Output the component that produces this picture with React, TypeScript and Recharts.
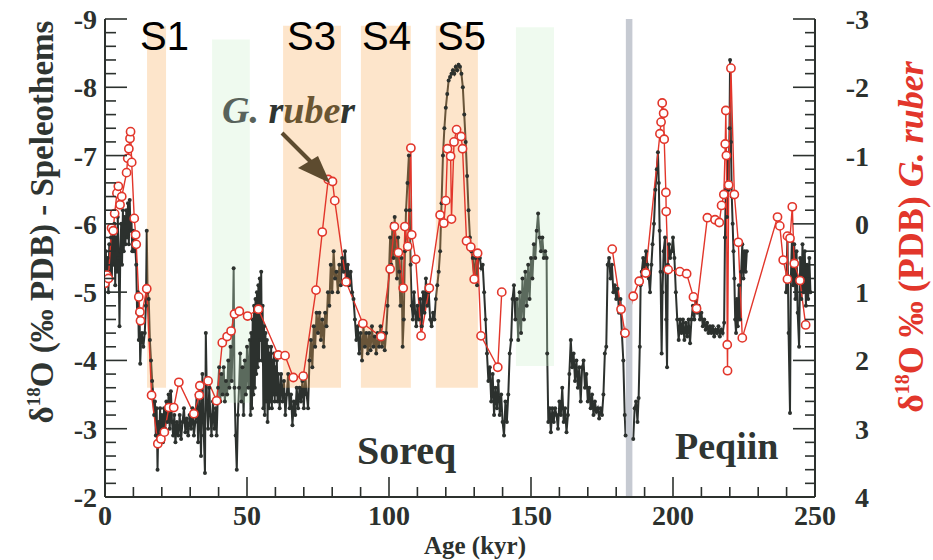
import React from 'react';
import { ComposedChart, Line, XAxis, YAxis, ReferenceArea } from 'recharts';

// [age kyr, δ18O ‰ PDB] Soreq speleothems (left axis)
const soreq: [number, number | null][] = [
    [0, -5.2], [0.3, -5.6], [0.6, -5.1], [0.9, -5.5], [1.2, -5.0], [1.5, -5.7], [1.8, -5.3], [2.1, -5.8],
    [2.4, -5.2], [2.7, -5.9], [3, -5.4], [3.3, -6.0], [3.6, -5.1], [3.9, -5.8], [4.2, -5.3], [4.5, -6.1],
    [4.8, -5.5], [5.1, -4.5], [5.4, -5.6], [5.7, -6.0], [6, -5.4], [6.3, -6.2], [6.6, -5.6], [6.9, -6.1],
    [7.2, -5.7], [7.5, -6.2], [7.8, -5.8], [8.1, -6.3], [8.4, -5.7], [8.7, -6.35], [9, -5.9], [9.3, -6.1],
    [9.6, -5.6], [9.9, -5.9], [10.2, -5.6], [10.5, -5.8], [11, -5.4], [11.3, -4.7], [11.6, -5.0], [11.9, -4.3],
    [12.2, -4.6], [12.4, -3.95], [12.7, -4.3], [13, -4.4], [13.5, -4.2], [14, -4.4], [14.4, -4.8], [14.7, -5.9],
    [15, -5.0], [15.4, -4.9], [15.8, -4.3], [16.2, -4.0], [16.6, -3.7], [17, -3.5], [17.3, -3.2], [17.6, -3.4],
    [17.9, -2.9], [18.2, -3.3], [18.5, -2.4], [18.8, -3.1], [19.1, -2.9], [19.4, -3.3], [19.7, -2.9], [20, -3.2],
    [20.4, -2.8], [20.8, -3.3], [21.2, -3.0], [21.6, -3.4], [22, -3.1], [22.4, -3.5], [22.8, -3.0], [23.2, -3.55],
    [23.6, -3.1], [24, -2.9], [24.4, -3.2], [24.8, -2.8], [25.3, -3.1], [25.8, -2.9], [26.3, -3.2], [26.8, -2.85],
    [27.3, -3.1], [27.8, -3.3], [28.3, -2.95], [28.8, -3.15], [29.3, -2.9], [29.8, -3.2], [30.3, -3.0], [30.8, -3.3],
    [31.3, -2.9], [31.8, -3.1], [32.3, -3.5], [32.8, -2.8], [33.3, -3.6], [33.8, -2.6], [34.3, -3.8], [34.8, -2.9],
    [35.2, -2.35], [35.5, -4.4], [35.9, -3.4], [36.3, -3.0], [36.7, -3.6], [37.1, -3.2], [37.5, -2.9], [38, -3.4],
    [38.5, -3.0], [39, -3.3], [39.3, -2.9], [39.8, -3.6], [40.2, -3.9], [40.6, -3.4], [41, -3.8], [41.4, -3.5],
    [41.8, -3.9], [42.2, -3.4], [42.6, -3.7], [43, -3.5], [43.4, -4.0], [43.8, -3.6], [44.2, -4.2], [44.6, -3.7],
    [45, -4.4], [45.3, -5.35], [45.6, -3.6], [46, -2.9], [46.4, -2.4], [46.8, -3.2], [47.2, -3.6], [47.6, -4.1],
    [48, -3.4], [48.4, -3.9], [48.8, -3.2], [49.2, -4.0], [49.6, -3.5], [50, -4.2], [50.5, -3.6], [51, -4.3],
    [51.25, -3.2], [51.5, -4.4], [51.75, -3.3], [52, -4.6], [52.25, -3.5], [52.5, -4.8], [52.75, -3.6], [53, -4.9],
    [53.25, -3.8], [53.5, -5.0], [53.75, -3.9], [54, -5.1], [54.25, -4.0], [54.5, -5.2], [54.75, -4.3], [55, -5.3],
    [55.25, -4.0], [55.5, -4.8], [55.75, -3.3], [56, -4.5], [56.25, -3.2], [56.5, -4.4], [56.75, -3.4], [57, -4.3],
    [57.25, -3.1], [57.5, -4.2], [57.75, -3.3], [58, -4.1], [58.25, -3.4], [58.5, -4.2], [58.75, -3.3], [59, -4.0],
    [59.25, -3.5], [59.5, -4.1], [59.75, -3.4], [60, -3.9], [60.25, -3.5], [60.5, -4.0], [60.75, -3.4], [61, -3.8],
    [61.5, -3.3], [62, -3.8], [62.5, -3.4], [63, -3.7], [63.5, -3.2], [64, -3.5], [64.5, -3.8],
    [65, -3.3], [65.5, -3.5], [66, -3.05], [66.5, -3.4], [67, -3.2], [67.5, -3.6], [68, -3.3], [68.5, -3.6],
    [69, -3.4], [69.5, -3.7], [70, -3.3], [70.5, -3.8], [71, -3.5], [71.5, -3.3], [72, -4.0], [72.5, -4.3],
    [73, -3.9], [73.5, -4.5], [74, -4.2], [74.5, -4.7], [75, -4.4], [75.5, -4.7], [76, -4.3], [76.5, -4.6],
    [77, -4.2], [77.5, -4.7], [78, -4.5], [78.5, -5.0], [79, -4.8], [79.5, -5.4], [80, -5.0], [80.5, -5.6],
    [81, -5.2], [81.5, -5.3], [82, -5.0], [82.5, -5.4], [83, -5.1], [83.5, -5.5], [84, -5.3], [84.5, -5.6],
    [85, -5.2], [85.5, -5.4], [86, -5.1], [86.5, -5.3], [87, -5.0], [87.5, -4.9], [88, -4.6], [88.5, -4.3],
    [89, -4.5], [89.5, -4.1], [90, -4.4], [90.5, -4.0], [91, -4.5], [91.5, -4.2], [92, -4.4], [92.5, -4.1],
    [93, -4.4], [93.5, -4.15], [94, -4.5], [94.5, -4.2], [95, -4.35], [95.5, -4.1], [96, -4.4], [96.5, -4.2],
    [97, -4.5], [97.5, -4.2], [98, -4.4], [98.5, -4.15], [99, -4.4], [99.5, -4.8], [100, -5.3], [100.4, -5.8],
    [100.8, -5.4], [101.2, -6.0], [101.6, -5.5], [102, -6.1], [102.4, -5.6], [102.8, -5.2], [103.2, -5.8], [103.6, -5.3],
    [104, -4.8], [104.4, -5.5], [104.8, -4.2], [105.2, -4.6], [105.6, -5.6], [106, -6.2], [106.5, -6.6], [107, -7.0],
    [107.3, -6.2], [107.6, -5.4], [108, -4.8], [108.4, -4.6], [108.8, -5.0], [109.2, -4.7], [109.6, -4.5], [110, -4.8],
    [110.5, -4.6], [111, -4.9], [111.5, -4.5], [112, -5.0], [112.5, -4.7], [113, -5.2], [113.5, -4.8], [114, -5.0],
    [114.5, -4.6], [115, -4.5], [115.5, -4.7], [116, -4.6], [116.5, -4.9], [117, -5.1], [117.5, -5.3], [118, -5.6],
    [118.5, -6.3], [119, -7.0], [119.5, -7.4], [120, -7.7], [120.5, -7.9], [121, -8.1], [121.5, -8.15], [122, -8.2],
    [122.5, -8.25], [123, -8.2], [123.5, -8.3], [124, -8.25], [124.5, -8.33], [125, -8.3], [125.5, -8.2], [126, -8.0],
    [126.5, -7.6], [127, -7.2], [127.5, -6.7], [128, -6.2], [128.5, -5.8], [129, -5.6], [129.5, -5.5], [130, -5.2],
    [130.5, -5.5], [131, -5.1], [131.5, -5.6], [132, -5.5], [132.5, -5.35], [133, -5.4], [133.5, -5.0], [134, -4.6],
    [134.5, -4.1], [135, -3.7], [135.5, -3.9], [136, -3.4], [136.5, -3.8], [137, -3.2], [137.5, -3.6], [138, -3.3],
    [138.5, -3.7], [139, -3.2], [139.5, -3.5], [140, -3.1], [140.5, -2.9], [141, -3.4], [141.5, -3.1], [142, -3.5],
    [142.5, -4.1], [143, -4.3], [143.5, -4.9], [144, -5.1], [144.5, -4.6], [145, -4.9], [145.5, -4.3], [146, -5.0],
    [146.5, -4.4], [147, -5.2], [147.5, -4.6], [148, -5.3], [148.5, -4.8], [149, -5.4], [149.5, -4.9], [150, -5.5],
    [150.5, -5.2], [151, -5.7], [151.5, -5.5], [152, -5.9], [152.5, -6.15], [153, -5.8], [153.5, -5.6], [154, -5.8],
    [154.5, -5.5], [155, -5.6], [155.5, -5.5], [155.7, -4.1], [156.1, -3.1], [156.6, -3.3], [157, -2.95], [157.5, -3.3],
    [158, -3.1], [158.5, -3.3], [159, -3.2], [159.5, -3.0], [160, -3.4], [160.5, -3.2], [161, -3.6], [161.5, -3.1],
    [162, -3.3], [162.5, -2.95], [163, -3.2], [163.5, -3.8], [164, -4.3], [164.5, -3.9], [165, -4.1], [165.5, -3.7],
    [166, -4.0], [166.5, -3.6], [167, -3.9], [167.5, -3.4], [168, -3.9], [168.5, -4.0], [169, -3.6], [169.5, -3.8],
    [170, -3.4], [170.5, -3.6], [171, -3.3], [171.5, -3.5], [172, -3.2], [172.5, -3.4], [173, -3.25], [173.5, -3.3],
    [174, -3.15], [174.5, -3.3], [175, -3.2], [175.5, -3.5], [176, -4.1], [176.5, -4.2], [177, -5.4], [177.5, -5.5],
    [178, -5.2], [178.5, -5.4], [179, -5.0], [179.5, -5.1], [180, -4.9], [180.5, -5.05], [181, -4.7], [181.5, -4.9],
    [182, -4.4], [182.5, -4.0], [183, -3.2], [183.3, -2.9],
];

// Peqiin speleothems (left axis), null = no record
const peqiin: [number, number | null][] = [
    [186, -2.85], [186.5, -3.3], [187, -3.4], [187.5, -3.1], [187.9, -3.45], [188.3, -4.2], [188.6, -5.1], [189, -5.3],
    [189.5, -5.5], [190, -5.3], [190.5, -5.6], [191, -5.4], [191.5, -5.2], [191.9, -5.0], [192.4, -5.4], [192.8, -5.7],
    [193.3, -6.0], [193.8, -6.5], [194.3, -6.8], [194.7, -7.05], [195, -6.6], [195.3, -5.9], [195.6, -5.3], [196, -4.1],
    [196.3, -5.0], [196.7, -5.6], [197.2, -5.8], [197.6, -4.6], [197.9, -3.9], [198.2, -5.4], [198.6, -5.7], [199, -5.5],
    [199.5, -5.6], [200, -5.8], [200.5, -5.5], [201, -5.0], [201.5, -4.6], [202, -4.3], [202.5, -4.6], [203, -4.4],
    [203.5, -4.6], [204, -4.3], [204.5, -4.55], [205, -4.35], [205.5, -4.6], [206, -4.25], [206.5, -4.6], [207, -4.8],
    [207.5, -4.6], [208, -4.9], [208.5, -4.7], [209, -4.8], [209.5, -4.6], [210, -4.7], [210.5, -4.5], [211, -4.6],
    [211.5, -4.45], [212, -4.55], [212.5, -4.4], [213, -4.5], [213.5, -4.4], [214, -4.5], [214.5, -4.35], [215, -4.45],
    [215.5, -4.4], [216, -4.5], [216.5, -4.35], [217, -4.45], [217.5, -4.4], [218, -4.55], [218.3, -5.8], [218.6, -6.5],
    [219, -6.1], [219.3, -7.0], [219.6, -6.5], [219.9, -7.4], [220.1, -8.4], [220.4, -7.2], [220.7, -6.4], [221, -6.0],
    [221.3, -5.6], [221.6, -5.2], [221.9, -4.6], [222.2, -4.4], [222.5, -4.9], [222.8, -4.5], [223.2, -5.1], [223.6, -4.6],
    [224, -5.3], [224.4, -5.7], [224.8, -5.2], [225.2, -5.6], [225.6, -5.3], [226, -5.6], [233, null],
    [239.8, -5.0], [240.3, -5.8], [240.7, -4.4], [241.2, -3.23], [241.5, -5.2], [241.9, -5.8], [242.3, -5.1], [242.7, -5.7],
    [243.1, -4.9], [243.5, -5.6], [243.9, -4.7], [244.4, -4.2], [244.8, -5.5], [245.2, -4.9], [245.6, -5.7], [246, -5.0],
    [246.4, -5.6], [246.8, -4.8], [247.2, -5.4], [247.6, -4.9], [248, -5.5], [248.4, -5.0],
];

// G. ruber (right axis)
const ruber: [number, number | null][] = [
    [0, 0.87], [0.6, 0.75], [1.2, 0.8], [2.3, 0.06], [2.9, 0.1], [3.4, -0.15], [4.2, -0.45], [4.7, -0.55],
    [5.3, -0.28], [5.9, -0.4], [7.6, -0.75], [8, -0.96], [8.4, -1.1], [8.8, -1.25], [9, -1.35], [9.4, -0.9],
    [10.3, -0.08], [10.8, 0.16], [11, 0.3], [11.9, 1.07], [12.3, 1.29], [12.5, 1.42], [14.7, 0.95], [16.4, 2.51],
    [18.6, 3.22], [19.7, 3.15], [20.9, 3.05], [22.5, 2.69], [24.2, 2.69], [26, 2.32], [31.3, 2.78], [33.2, 2.51],
    [33.4, 2.37], [36.3, 2.3], [39.3, 2.59], [41.3, 1.74], [43, 1.65], [44.4, 1.57], [45.6, 1.32], [47.3, 1.28],
    [50.2, 1.35], [54, 1.25], [61, 1.92], [63.4, 1.93], [66.3, 2.25], [69.8, 2.23], [74.3, 0.97], [76.5, 0.12],
    [78.6, -0.65], [80.1, -0.62], [80.9, -0.34], [84.9, 0.85], [90.8, 1.46], [97.2, 1.65], [100.4, 0.66], [101.9, 0.04],
    [103.3, 0.42], [105, 0.94], [105.6, 0.04], [106.6, 0.33], [107.7, -1.11], [108, 0.16], [109.4, 0.52], [111.3, 1.64],
    [114.2, 0.94], [118, -0.13], [119.3, -0.01], [120, -0.34], [120.6, -1.1], [121.7, -0.99], [122, -0.07], [122.9, -1.2],
    [123.8, -1.38], [125.4, -1.28], [125.9, -1.1], [127.3, 0.25], [128.8, 0.34], [130, 0.81], [131.2, 0.43], [132.4, 1.64],
    [138.3, 2.1], [139.7, 1.0], [160, null], [178.6, 0.37], [181.7, 1.25], [183.1, 1.6], [186, 1.06], [188.1, 0.84],
    [190.4, 0.72], [195.4, -1.32], [195.8, -1.49], [196.2, -1.77], [196.7, -1.62], [196.9, -1.24], [197.5, -0.46], [197.6, -0.18],
    [198.3, 0.67], [202.4, 0.7], [204.8, 0.73], [207.2, 1.07], [208.3, 1.24], [212.1, -0.09], [214.8, -0.06], [216.3, -0.02],
    [217.1, -0.27], [217.9, -0.43], [218.4, -1.17], [218.6, -1.66], [218.8, -1.0], [219.1, 1.77], [219.2, 2.15], [219.6, -0.57],
    [220.4, -2.28], [221.6, -0.43], [223, 0.27], [224.4, 1.67], [236.8, -0.1], [237.6, 0.03], [238.8, 0.53], [240.3, 0.81],
    [240.3, 0.18], [241.2, 0.21], [242, -0.25], [242.7, 0.58], [244.7, 0.83], [246.7, 1.48],
];

// shaded intervals: [from kyr, to kyr, top δ18O, bottom δ18O]
const sapropels: [number, number, number, number][] = [
    [14.8, 21.5, -8.9, -3.6], [62.7, 83.1, -8.9, -3.6], [90.1, 107.7, -8.9, -3.6], [116.5, 131.3, -8.9, -3.6],
];
const greenBands: [number, number, number, number][] = [
    [37.7, 51, -8.7, -3.38], [144.7, 158.1, -8.88, -3.92],
];
const recordBreak: [number, number] = [183.4, 185.7];

const ageMajor = [0, 50, 100, 150, 200, 250];
const leftMajor = [-9, -8, -7, -6, -5, -4, -3, -2];
const rightMajor = [-3, -2, -1, 0, 1, 2, 3, 4];

const addMinor = (major: number[], parts: number) => {
    const out: number[] = [];
    major.forEach((m, i) => {
        out.push(m);
        if (i < major.length - 1) {
            const step = (major[i + 1] - m) / parts;
            for (let k = 1; k < parts; k++) out.push(Math.round((m + step * k) * 100) / 100);
        }
    });
    return out;
};

const toRows = (s: [number, number | null][]) => s.map(([age, v]) => ({ age, v }));

const INK = '#2c312e';
const RED = '#e2362b';
const SERIF = '"Liberation Serif", "Times New Roman", serif';
const isMajor = (v: number, list: number[]) => list.some(m => Math.abs(m - v) < 1e-6);

const LeftTick = (p: any) => {
    const v = p.payload.value;
    const major = isMajor(v, leftMajor);
    return (
        <g>
            <line x1={p.x} x2={p.x + (major ? 22 : 11)} y1={p.y} y2={p.y} stroke={INK} strokeWidth={1.6} />
            {major && (
                <text x={p.x - 8} y={p.y + 10} textAnchor="end" fontFamily={SERIF} fontWeight="bold" fontSize={28} fill={INK}>
                    {v}
                </text>
            )}
        </g>
    );
};

const RightTick = (p: any) => {
    const v = p.payload.value;
    const major = isMajor(v, rightMajor);
    return (
        <g>
            <line x1={p.x} x2={p.x - (major ? 22 : 10)} y1={p.y} y2={p.y} stroke={INK} strokeWidth={1.6} />
            {major && (
                <text x={p.x + 54} y={p.y + 10} textAnchor="end" fontFamily={SERIF} fontWeight="bold" fontSize={28} fill={INK}>
                    {v}
                </text>
            )}
        </g>
    );
};

const AgeTick = (p: any) => {
    const v = p.payload.value;
    const major = isMajor(v, ageMajor);
    return (
        <g>
            <line x1={p.x} x2={p.x} y1={p.y} y2={p.y - (major ? 20 : 10)} stroke={INK} strokeWidth={1.6} />
            {major && (
                <text x={p.x} y={p.y + 28} textAnchor="middle" fontFamily={SERIF} fontWeight="bold" fontSize={28} fill={INK}>
                    {v}
                </text>
            )}
        </g>
    );
};

const App: React.FC = () => {
    const soreqRows = toRows(soreq);
    const peqiinRows = toRows(peqiin);
    const ruberRows = toRows(ruber);
    const blackDot = { r: 2, fill: INK, stroke: INK, strokeWidth: 0 };

    return (
        <div style={{ position: 'relative', width: 933, height: 560, background: '#fff' }}>
            <style>{'html,body{margin:0;padding:0;overflow:hidden;background:#fff}'}</style>
            <ComposedChart width={933} height={560} margin={{ top: 19, right: 58, left: 45, bottom: 23 }}>
                <XAxis
                    type="number"
                    dataKey="age"
                    domain={[0, 250]}
                    allowDataOverflow
                    ticks={addMinor(ageMajor, 5)}
                    interval={0}
                    tick={<AgeTick />}
                    tickLine={false}
                    tickSize={0}
                    tickMargin={0}
                    height={40}
                    axisLine={{ stroke: INK, strokeWidth: 2 }}
                />
                <XAxis
                    xAxisId="top"
                    orientation="top"
                    type="number"
                    domain={[0, 250]}
                    tick={false}
                    tickLine={false}
                    height={0}
                    axisLine={{ stroke: INK, strokeWidth: 2 }}
                />
                <YAxis
                    yAxisId="left"
                    type="number"
                    domain={[-9, -2]}
                    reversed
                    allowDataOverflow
                    ticks={addMinor(leftMajor, 5)}
                    interval={0}
                    tick={<LeftTick />}
                    tickLine={false}
                    tickSize={0}
                    tickMargin={0}
                    width={60}
                    axisLine={{ stroke: INK, strokeWidth: 2 }}
                />
                <YAxis
                    yAxisId="right"
                    orientation="right"
                    type="number"
                    domain={[-3, 4]}
                    reversed
                    allowDataOverflow
                    ticks={addMinor(rightMajor, 5)}
                    interval={0}
                    tick={<RightTick />}
                    tickLine={false}
                    tickSize={0}
                    tickMargin={0}
                    width={60}
                    axisLine={{ stroke: INK, strokeWidth: 2 }}
                />

                <Line data={soreqRows} dataKey="v" yAxisId="left" stroke={INK} strokeWidth={2} dot={blackDot}
                    connectNulls={false} isAnimationActive={false} zIndex={400} />
                <Line data={peqiinRows} dataKey="v" yAxisId="left" stroke={INK} strokeWidth={2} dot={blackDot}
                    connectNulls={false} isAnimationActive={false} zIndex={400} />

                {sapropels.map(([x1, x2, y1, y2], i) => (
                    <ReferenceArea key={`s${i}`} yAxisId="left" x1={x1} x2={x2} y1={y1} y2={y2}
                        fill="#f8a852" fillOpacity={0.3} stroke="none" zIndex={410} />
                ))}
                {greenBands.map(([x1, x2, y1, y2], i) => (
                    <ReferenceArea key={`g${i}`} yAxisId="left" x1={x1} x2={x2} y1={y1} y2={y2}
                        fill="#cbeecb" fillOpacity={0.3} stroke="none" zIndex={410} />
                ))}

                <Line data={ruberRows} dataKey="v" yAxisId="right" stroke={RED} strokeWidth={1.4}
                    dot={{ r: 4.1, fill: '#fff', stroke: RED, strokeWidth: 1.6 }}
                    connectNulls={false} isAnimationActive={false} zIndex={430} />

                <ReferenceArea yAxisId="left" x1={recordBreak[0]} x2={recordBreak[1]} y1={-9} y2={-2}
                    fill="#c6cad2" fillOpacity={1} stroke="none" zIndex={440} />
            </ComposedChart>

            <svg width={933} height={560} style={{ position: 'absolute', left: 0, top: 0, pointerEvents: 'none' }}>
                <g fontFamily='"Liberation Sans", Arial, sans-serif' fontSize={40} fill="#000">
                    <text x={140} y={50}>S1</text>
                    <text x={287} y={50}>S3</text>
                    <text x={362} y={50}>S4</text>
                    <text x={437} y={50}>S5</text>
                </g>
                <text x={222} y={123} fontFamily={SERIF} fontWeight="bold" fontStyle="italic" fontSize={38}>
                    <tspan fill="#58625b">G.</tspan>
                    <tspan fill="#2f3532"> r</tspan>
                    <tspan fill="#6a5532">ube</tspan>
                    <tspan fill="#2f3532">r</tspan>
                </text>
                <line x1={282} y1={133} x2={316} y2={167} stroke="#5d4b2f" strokeWidth={4} />
                <polygon points="298,168 330,183 318,156" fill="#5d4b2f" />
                <text x={357} y={464} fontFamily={SERIF} fontWeight="bold" fontSize={40} fill="#2f3532">Soreq</text>
                <text x={675} y={459} fontFamily={SERIF} fontWeight="bold" fontSize={38} fill="#2f3532">Peqiin</text>
                <text x={475} y={554} textAnchor="middle" fontFamily={SERIF} fontWeight="bold" fontSize={25} fill={INK}>
                    Age (kyr)
                </text>
                <text transform="translate(53,222) rotate(-90)" textAnchor="middle" fontFamily={SERIF}
                    fontWeight="bold" fontSize={33} fill="#2f3532">
                    δ<tspan fontSize={19} dy={-13}>18</tspan><tspan dy={13}>O (‰ PDB) - Speleothems</tspan>
                </text>
                <text transform="translate(923,237) rotate(-90)" textAnchor="middle" fontFamily={SERIF}
                    fontWeight="bold" fontSize={36} fill={RED}>
                    δ<tspan fontSize={20} dy={-14}>18</tspan><tspan dy={14}>O ‰ (PDB) </tspan>
                    <tspan fontStyle="italic">G. ruber</tspan>
                </text>
            </svg>
        </div>
    );
};

export default App;
